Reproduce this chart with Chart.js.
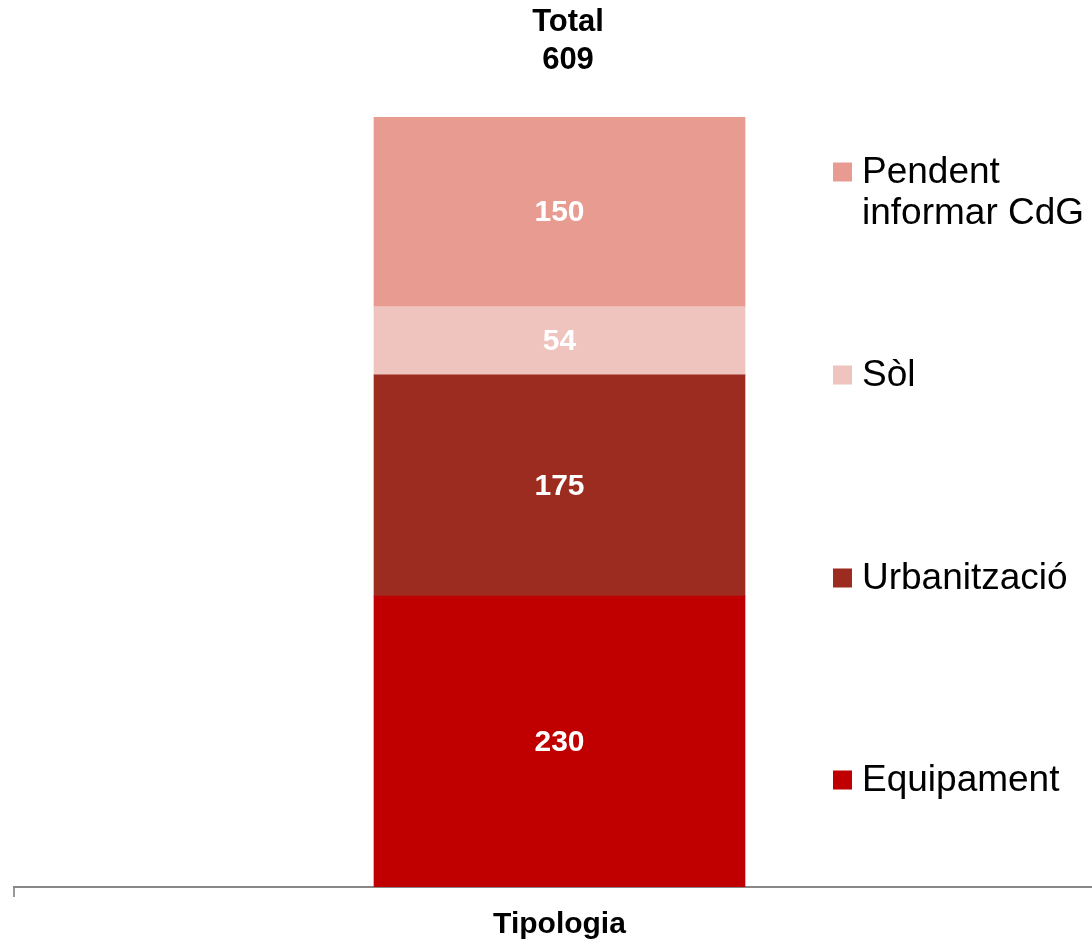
<!DOCTYPE html>
<html lang="ca">
<head>
    <meta charset="UTF-8">
    <title>Tipologia</title>
    <script src="https://cdn.jsdelivr.net/npm/chart.js"></script>
    <style>
        html, body { margin: 0; padding: 0; background: #fff; overflow: hidden; }
    </style>
</head>
<body>
    <canvas id="tipologiaChart" width="1110" height="953"></canvas>
    <script>
        // dades
        const categories = ['Tipologia'];
        const seriesNames = ['Equipament', 'Urbanització', 'Sòl', 'Pendent informar CdG'];
        const equipament = [230];
        const urbanitzacio = [175];
        const sol = [54];
        const pendent = [150];
        const colors = ['#C00000', '#9C2B20', '#F0C4BE', '#E89B91'];
        const FONT = '"Liberation Sans", Arial, sans-serif';

        // etiquetes blanques dins de cada tram
        const segmentLabels = {
            id: 'segmentLabels',
            afterDatasetsDraw(chart) {
                const ctx = chart.ctx;
                ctx.save();
                ctx.fillStyle = '#fff';
                ctx.font = 'bold 30px ' + FONT;
                ctx.textAlign = 'center';
                ctx.textBaseline = 'middle';
                chart.data.datasets.forEach((ds, i) => {
                    chart.getDatasetMeta(i).data.forEach((bar, j) => {
                        ctx.fillText(ds.data[j], bar.x, (bar.y + bar.base) / 2 + 1);
                    });
                });
                ctx.restore();
            }
        };

        // total a dalt
        const totalLabel = {
            id: 'totalLabel',
            afterDraw(chart) {
                const ctx = chart.ctx;
                let total = 0;
                chart.data.datasets.forEach(ds => total += ds.data[0]);
                ctx.save();
                ctx.fillStyle = '#000';
                ctx.font = 'bold 31px ' + FONT;
                ctx.textAlign = 'center';
                ctx.textBaseline = 'middle';
                ctx.fillText('Total', 568, 22);
                ctx.fillText(String(total), 568, 60);
                ctx.restore();
            }
        };

        // llegenda a la dreta (ordre invers)
        const sideLegend = {
            id: 'sideLegend',
            afterDraw(chart) {
                const ctx = chart.ctx;
                const ys = [780, 578, 375, 172];
                ctx.save();
                ctx.font = '37px ' + FONT;
                ctx.textBaseline = 'middle';
                ctx.textAlign = 'left';
                chart.data.datasets.forEach((ds, i) => {
                    const y = ys[i];
                    ctx.fillStyle = ds.backgroundColor;
                    ctx.fillRect(833, y - 9.5, 19, 19);
                    ctx.fillStyle = '#000';
                    if (ds.label === 'Pendent informar CdG') {
                        ctx.fillText('Pendent', 862, y + 1);
                        ctx.fillText('informar CdG', 862, y + 42);
                    } else {
                        ctx.fillText(ds.label, 862, y + 1);
                    }
                });
                ctx.restore();
            }
        };

        const ctx = document.getElementById('tipologiaChart').getContext('2d');
        new Chart(ctx, {
            type: 'bar',
            data: {
                labels: categories,
                datasets: [
                    { label: seriesNames[0], data: equipament, backgroundColor: colors[0] },
                    { label: seriesNames[1], data: urbanitzacio, backgroundColor: colors[1] },
                    { label: seriesNames[2], data: sol, backgroundColor: colors[2] },
                    { label: seriesNames[3], data: pendent, backgroundColor: colors[3] }
                ].map(d => Object.assign(d, { barThickness: 371, borderWidth: 0 }))
            },
            options: {
                responsive: false,
                animation: false,
                layout: { padding: { top: 117, left: 14, right: 5, bottom: 0 } },
                plugins: {
                    legend: { display: false },
                    tooltip: { enabled: false }
                },
                scales: {
                    x: {
                        stacked: true,
                        offset: true,
                        grid: {
                            offset: true,
                            drawOnChartArea: false,
                            drawTicks: true,
                            tickLength: 10,
                            color: '#999',
                            lineWidth: 2
                        },
                        border: { display: true, color: '#888', width: 2 },
                        ticks: {
                            color: '#000',
                            padding: 3,
                            font: { family: FONT, size: 30, weight: 'bold', lineHeight: 1.667 }
                        }
                    },
                    y: {
                        stacked: true,
                        display: false,
                        min: 0,
                        max: 609
                    }
                }
            },
            plugins: [segmentLabels, totalLabel, sideLegend]
        });
    </script>
</body>
</html>
